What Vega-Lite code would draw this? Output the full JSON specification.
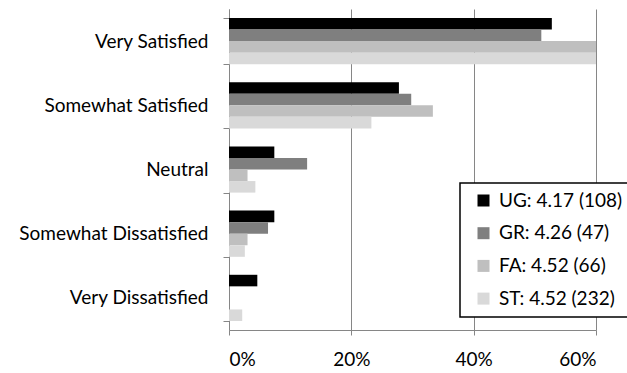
{
  "$schema": "https://vega.github.io/schema/vega-lite/v6.json",
  "width": 367,
  "height": 321,
  "autosize": {"type": "none"},
  "padding": {"left": 229, "top": 9, "right": 31, "bottom": 43},
  "config": {
    "font": "Lato",
    "view": {"stroke": null},
    "axis": {"labelColor": "#000000", "labelFont": "Lato", "domainColor": "#868686", "tickColor": "#868686", "gridColor": "#868686", "domainWidth": 1, "tickWidth": 1, "gridWidth": 1},
    "legend": {"strokeWidth": 1.5}
  },
  "data": {
    "values": [
      {"response": "Very Satisfied", "series": "UG: 4.17 (108)", "pct": 0.5278},
      {"response": "Very Satisfied", "series": "GR: 4.26 (47)", "pct": 0.5106},
      {"response": "Very Satisfied", "series": "FA: 4.52 (66)", "pct": 0.6061},
      {"response": "Very Satisfied", "series": "ST: 4.52 (232)", "pct": 0.6767},
      {"response": "Somewhat Satisfied", "series": "UG: 4.17 (108)", "pct": 0.2778},
      {"response": "Somewhat Satisfied", "series": "GR: 4.26 (47)", "pct": 0.2979},
      {"response": "Somewhat Satisfied", "series": "FA: 4.52 (66)", "pct": 0.3333},
      {"response": "Somewhat Satisfied", "series": "ST: 4.52 (232)", "pct": 0.2328},
      {"response": "Neutral", "series": "UG: 4.17 (108)", "pct": 0.0741},
      {"response": "Neutral", "series": "GR: 4.26 (47)", "pct": 0.1277},
      {"response": "Neutral", "series": "FA: 4.52 (66)", "pct": 0.0303},
      {"response": "Neutral", "series": "ST: 4.52 (232)", "pct": 0.0431},
      {"response": "Somewhat Dissatisfied", "series": "UG: 4.17 (108)", "pct": 0.0741},
      {"response": "Somewhat Dissatisfied", "series": "GR: 4.26 (47)", "pct": 0.0638},
      {"response": "Somewhat Dissatisfied", "series": "FA: 4.52 (66)", "pct": 0.0303},
      {"response": "Somewhat Dissatisfied", "series": "ST: 4.52 (232)", "pct": 0.0259},
      {"response": "Very Dissatisfied", "series": "UG: 4.17 (108)", "pct": 0.0463},
      {"response": "Very Dissatisfied", "series": "GR: 4.26 (47)", "pct": 0},
      {"response": "Very Dissatisfied", "series": "FA: 4.52 (66)", "pct": 0},
      {"response": "Very Dissatisfied", "series": "ST: 4.52 (232)", "pct": 0.0216}
    ]
  },
  "mark": {"type": "bar", "clip": true},
  "encoding": {
    "y": {
      "field": "response",
      "type": "nominal",
      "sort": ["Very Satisfied", "Somewhat Satisfied", "Neutral", "Somewhat Dissatisfied", "Very Dissatisfied"],
      "scale": {"paddingInner": 0.28, "paddingOuter": 0.14},
      "axis": {"title": null, "tickBand": "extent", "labelFontSize": 19, "labelPadding": 15, "tickSize": 6, "grid": false, "labelLimit": 300}
    },
    "yOffset": {
      "field": "series",
      "type": "nominal",
      "sort": ["UG: 4.17 (108)", "GR: 4.26 (47)", "FA: 4.52 (66)", "ST: 4.52 (232)"],
      "scale": {"paddingInner": 0, "paddingOuter": 0}
    },
    "x": {
      "field": "pct",
      "type": "quantitative",
      "scale": {"domain": [0, 0.6], "nice": false},
      "axis": {"title": null, "format": ".0%", "values": [0, 0.2, 0.4, 0.6], "grid": true, "tickSize": 5, "labelFontSize": 19, "labelPadding": 15}
    },
    "color": {
      "field": "series",
      "type": "nominal",
      "sort": ["UG: 4.17 (108)", "GR: 4.26 (47)", "FA: 4.52 (66)", "ST: 4.52 (232)"],
      "scale": {
        "domain": ["UG: 4.17 (108)", "GR: 4.26 (47)", "FA: 4.52 (66)", "ST: 4.52 (232)"],
        "range": ["#000000", "#7f7f7f", "#bfbfbf", "#d9d9d9"]
      },
      "legend": {
        "title": null,
        "orient": "none",
        "legendX": 231,
        "legendY": 174,
        "strokeColor": "#000000",
        "fillColor": "#ffffff",
        "padding": 8,
        "symbolOffset": 6,
        "symbolType": "square",
        "symbolSize": 144,
        "symbolStrokeWidth": 0,
        "labelFontSize": 19,
        "labelColor": "#000000",
        "labelOffset": 6,
        "rowPadding": 12.7,
        "labelLimit": 300
      }
    }
  }
}
